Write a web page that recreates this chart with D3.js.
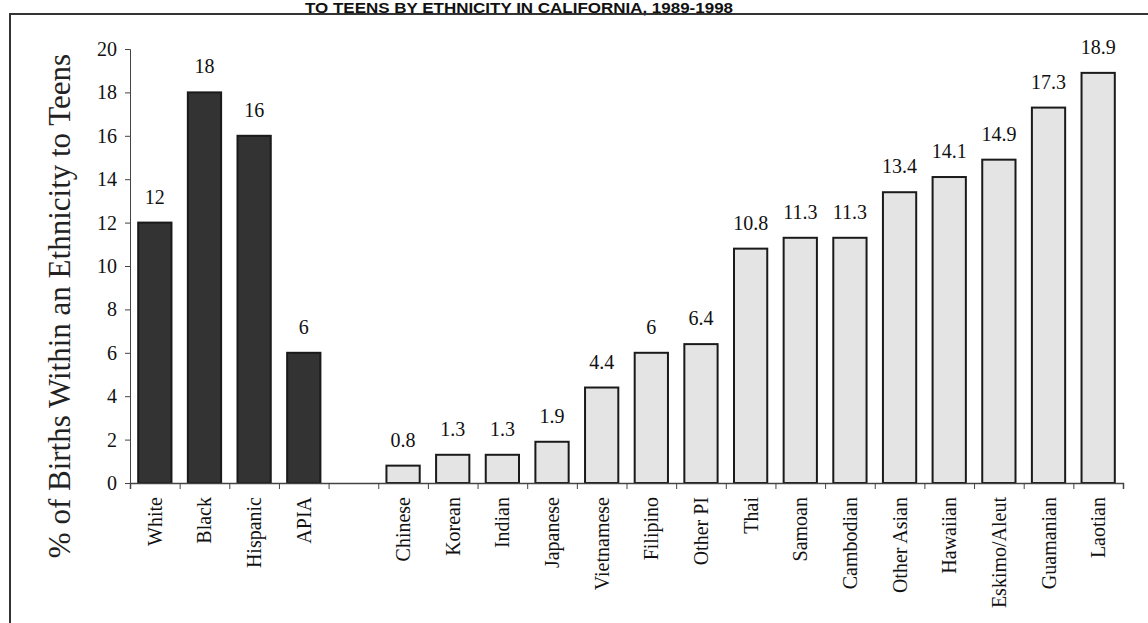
<!DOCTYPE html>
<html>
<head>
<meta charset="utf-8">
<script src="https://cdn.jsdelivr.net/npm/d3@7"></script>
<style>
    html, body { margin: 0; padding: 0; background: #fff; }
    svg { display: block; }
</style>
</head>
<body>
<div id="chart"></div>
<script>
'use strict';

// データ
const groupCats = ['White', 'Black', 'Hispanic', 'APIA'];
const groupVals = [12, 18, 16, 6];
const subCats = ['Chinese', 'Korean', 'Indian', 'Japanese', 'Vietnamese', 'Filipino', 'Other PI',
    'Thai', 'Samoan', 'Cambodian', 'Other Asian', 'Hawaiian', 'Eskimo/Aleut', 'Guamanian', 'Laotian'];
const subVals = [0.8, 1.3, 1.3, 1.9, 4.4, 6, 6.4, 10.8, 11.3, 11.3, 13.4, 14.1, 14.9, 17.3, 18.9];
const yTicks = [0, 2, 4, 6, 8, 10, 12, 14, 16, 18, 20];
const titleText = 'TO TEENS BY ETHNICITY IN CALIFORNIA, 1989-1998';
const yTitle = '% of Births Within an Ethnicity to Teens';

const width = 1148;
const height = 623;
const margin = { left: 130, right: 25, top: 49, bottom: 140 };
const serif = '"Liberation Serif", "Times New Roman", serif';

// 4グループ + 空き1枠 + 15カテゴリ
const gapKey = '__gap__';
const domain = [...groupCats, gapKey, ...subCats];
const dataset = [
    ...groupCats.map((d, i) => ({ name: d, value: groupVals[i], dark: true })),
    ...subCats.map((d, i) => ({ name: d, value: subVals[i], dark: false }))
];

const svg = d3.select('#chart')
    .append('svg')
    .attr('width', width)
    .attr('height', height);

// タイトル
svg.append('text')
    .attr('x', 519)
    .attr('y', 13)
    .attr('text-anchor', 'middle')
    .attr('font-family', '"Liberation Sans Narrow", "Liberation Sans", Arial, sans-serif')
    .attr('font-weight', 'bold')
    .attr('font-size', 14)
    .attr('textLength', 428)
    .attr('lengthAdjust', 'spacingAndGlyphs')
    .attr('fill', '#111')
    .text(titleText);

// 枠線
svg.append('path')
    .attr('d', `M${width},14H10V${height}`)
    .attr('fill', 'none')
    .attr('stroke', '#333')
    .attr('stroke-width', 2);

const x = d3.scaleBand()
    .domain(domain)
    .range([margin.left, width - margin.right])
    .paddingInner(0.33)
    .paddingOuter(0.165);
const xEdge = d3.scaleLinear()
    .domain([0, domain.length])
    .range([margin.left, width - margin.right]);
const y = d3.scaleLinear()
    .domain([0, 20])
    .range([height - margin.bottom, margin.top]);

// 棒
svg.append('g')
    .selectAll('rect')
    .data(dataset)
    .join('rect')
    .attr('x', d => x(d.name))
    .attr('y', d => y(d.value))
    .attr('width', x.bandwidth())
    .attr('height', d => y(0) - y(d.value))
    .attr('fill', d => d.dark ? '#333333' : '#e4e4e4')
    .attr('stroke', '#1a1a1a')
    .attr('stroke-width', 2);

// 値ラベル
svg.append('g')
    .selectAll('text')
    .data(dataset)
    .join('text')
    .attr('x', d => x(d.name) + x.bandwidth() / 2)
    .attr('y', d => y(d.value) - 19)
    .attr('text-anchor', 'middle')
    .attr('font-family', serif)
    .attr('font-size', 20)
    .attr('fill', '#111')
    .text(d => d.value);

// Y軸
const yAxis = svg.append('g')
    .attr('transform', `translate(${margin.left},0)`)
    .call(d3.axisLeft(y).tickValues(yTicks).tickSize(5).tickPadding(8));
yAxis.selectAll('text')
    .attr('font-family', serif)
    .attr('font-size', 20)
    .attr('fill', '#111');

// X軸(目盛りは区切り位置)
const xAxis = svg.append('g')
    .attr('transform', `translate(0,${y(0)})`)
    .call(d3.axisBottom(xEdge).tickValues(d3.range(domain.length + 1)).tickSize(6).tickFormat(''));
xAxis.select('.domain').attr('stroke-width', 1.5);

[yAxis, xAxis].forEach(ax => {
    ax.select('.domain').attr('stroke', '#444');
    ax.selectAll('.tick line').attr('stroke', '#444');
});

// X軸ラベル(縦書き)
svg.append('g')
    .selectAll('text')
    .data(dataset)
    .join('text')
    .attr('transform', d => `translate(${x(d.name) + x.bandwidth() / 2 + 7},${y(0) + 14}) rotate(-90)`)
    .attr('text-anchor', 'end')
    .attr('font-family', serif)
    .attr('font-size', 20)
    .attr('fill', '#111')
    .text(d => d.name);

// Y軸タイトル
svg.append('text')
    .attr('transform', `translate(70,306) rotate(-90)`)
    .attr('text-anchor', 'middle')
    .attr('font-family', serif)
    .attr('font-size', 31)
    .attr('fill', '#222')
    .text(yTitle);
</script>
</body>
</html>
